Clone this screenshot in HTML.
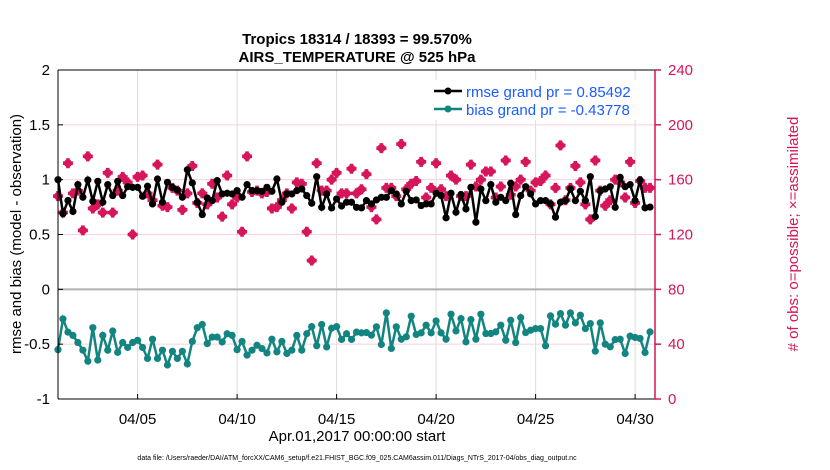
<!DOCTYPE html>
<html><head><meta charset="utf-8"><style>
body{margin:0;background:#fff;}
svg{display:block;font-family:"Liberation Sans",Arial,sans-serif;}
</style></head><body>
<svg id="chart" width="830" height="470" viewBox="0 0 830 470">
<g id="grid"></g>
<g id="series"></g>
<g id="axes"></g>
<text x="357" y="44" text-anchor="middle" font-size="15" font-weight="bold">Tropics 18314 / 18393 = 99.570%</text>
<text x="357" y="62" text-anchor="middle" font-size="15" font-weight="bold">AIRS_TEMPERATURE @ 525 hPa</text>
<text transform="translate(21,234) rotate(-90)" text-anchor="middle" font-size="15">rmse and bias (model - observation)</text>
<text transform="translate(798,234) rotate(-90)" text-anchor="middle" font-size="15" fill="#d6155a"># of obs: o=possible; ×=assimilated</text>
<text x="357" y="441" text-anchor="middle" font-size="15">Apr.01,2017 00:00:00 start</text>
<text x="357" y="460" text-anchor="middle" font-size="7">data file: /Users/raeder/DAI/ATM_forcXX/CAM6_setup/f.e21.FHIST_BGC.f09_025.CAM6assim.011/Diags_NTrS_2017-04/obs_diag_output.nc</text>
<g>
<rect x="430" y="80" width="222" height="40" fill="#fff"/>
<g>
<line x1="434" y1="91" x2="462" y2="91" stroke="#000" stroke-width="2.5"/><circle cx="448" cy="91" r="3.5" fill="#000"/>
<text x="466" y="97" font-size="15" fill="#1a5cff">rmse grand pr = 0.85492</text></g>
<g>
<line x1="434" y1="109" x2="462" y2="109" stroke="#138580" stroke-width="2.5"/><circle cx="448" cy="109" r="3.5" fill="#138580"/>
<text x="466" y="115" font-size="15" fill="#1a5cff">bias grand pr = -0.43778</text></g>
</g>
</svg>
<script>
const rmse=[1.0,0.69,0.81,0.71,0.955,0.84,0.997,0.803,0.985,0.794,0.955,0.855,0.985,0.855,0.936,0.93,0.93,0.848,0.94,0.779,1.006,0.794,0.976,0.93,0.906,0.84,1.09,0.97,0.794,0.682,0.833,0.809,0.991,0.87,0.876,0.87,0.9,0.84,0.955,0.9,0.9,0.894,0.93,0.894,1.006,0.794,0.87,0.87,0.9,0.915,0.855,0.785,1.027,0.748,0.87,0.742,0.824,0.76,0.794,0.794,0.748,
0.743,0.809,0.779,0.815,0.839,0.839,0.9,0.87,0.779,0.894,0.809,0.815,0.764,0.779,0.779,0.876,
0.855,0.652,0.876,0.703,0.864,0.733,0.93,0.612,0.915,0.809,0.955,0.794,0.839,0.809,0.967,0.682,0.855,0.936,0.87,0.779,0.809,0.809,0.779,0.658,0.794,0.809,0.915,0.809,0.894,0.809,1.027,0.664,0.9,0.915,0.936,0.748,1.021,0.936,0.955,0.809,0.997,0.743,0.75];
const bias=[-0.55,-0.27,-0.39,-0.42,-0.485,-0.555,-0.655,-0.35,-0.645,-0.42,-0.555,-0.38,-0.575,-0.485,-0.53,-0.485,-0.465,-0.53,-0.63,-0.455,-0.63,-0.555,-0.69,-0.565,-0.63,-0.565,-0.68,-0.475,-0.35,-0.32,-0.495,-0.435,-0.435,-0.48,-0.405,-0.42,-0.55,-0.475,-0.6,-0.555,-0.51,-0.54,-0.58,-0.455,-0.57,-0.475,-0.585,-0.555,-0.42,-0.555,-0.405,-0.34,-0.515,-0.32,-0.525,-0.355,-0.34,-0.457,-0.405,-0.457,-0.39,
-0.397,-0.394,-0.418,-0.342,-0.503,-0.215,-0.539,-0.342,-0.455,-0.433,-0.245,-0.412,-0.397,-0.327,-0.397,-0.288,-0.397,-0.455,-0.227,-0.379,-0.267,-0.479,-0.276,-0.455,-0.227,-0.403,-0.403,-0.388,-0.327,-0.464,-0.282,-0.485,-0.258,-0.394,-0.373,-0.358,-0.358,-0.515,-0.242,-0.318,-0.221,-0.327,-0.215,-0.306,-0.236,-0.358,-0.312,-0.564,-0.306,-0.5,-0.524,-0.458,-0.455,-0.585,-0.427,-0.439,-0.448,-0.576,-0.388];
const obsCount=[148,136,172,150,152,123,177,139,142,136,165,136,152,162,158,120,162,163,150,145,171,141,140,154,152,138,150,170,143,150,142,157,147,133,163,142,147,122,177,151,152,150,151,139,140,145,150,139,158,157,122,101,172,152,152,160,165,150,150,168,150,
153,164,140,131,183,154,154,148,186,153,157,159,173,147,154,172,153,148,163,160,148,148,171,155,160,166,166,147,155,174,149,155,160,173,152,158,159,163,142,154,185,145,154,170,158,142,131,174,152,141,145,160,158,147,173,143,159,154,154];
const xTickDays=[4,9,14,19,24,29];
const xTickLabels=["04/05","04/10","04/15","04/20","04/25","04/30"];
const yTicks=[2,1.5,1,0.5,0,-0.5,-1];
const y2Ticks=[240,200,160,120,80,40,0];
const stepDays=0.25;

const NS="http://www.w3.org/2000/svg";
const L=58,R=655,T=70,B=399;
const xS=d=>L+d*(R-L)/30;
const yS=v=>B-(v+1)*(B-T)/3;
const y2S=c=>B-c*(B-T)/240;
function mk(tag,attrs,parent){const e=document.createElementNS(NS,tag);for(const k in attrs)e.setAttribute(k,attrs[k]);parent.appendChild(e);return e;}
const grid=document.getElementById('grid'),ser=document.getElementById('series'),ax=document.getElementById('axes');
xTickDays.forEach((d,i)=>{
 const g=mk('line',{x1:xS(d),x2:xS(d),y1:T,y2:B,stroke:'#dcdcdc','stroke-width':1},grid);
 
 
 mk('line',{x1:xS(d),x2:xS(d),y1:B,y2:B-5,stroke:'#000'},ax);
 const lb=mk('text',{x:xS(d),y:B+25,'text-anchor':'middle','font-size':15},ax);lb.textContent=xTickLabels[i];
 
 
});
y2Ticks.forEach(c=>{
 if(c===0||c===240)return;
 const g=mk('line',{x1:L,x2:R,y1:y2S(c),y2:y2S(c),stroke:'#f8d0dc','stroke-width':1},grid);
 
 
});
const z=mk('line',{x1:L,x2:R,y1:yS(0),y2:yS(0),stroke:'#b0b0b0','stroke-width':2},grid);


obsCount.forEach((c,i)=>{
 const x=xS(i*stepDays),y=y2S(c);
 const g=mk('g',{fill:'#d6155a'},ser);
 
 
 mk('path',{d:`M${x-1.8} ${y-5}h3.6v3.2h3.2v3.6h-3.2v3.2h-3.6v-3.2h-3.2v-3.6h3.2z`},g);
 mk('circle',{cx:x,cy:y,r:4},g);
});
function line(arr,color,name){
 const pts=arr.map((v,i)=>xS(i*stepDays).toFixed(1)+','+yS(v).toFixed(1)).join(' ');
 const p=mk('polyline',{points:pts,fill:'none',stroke:color,'stroke-width':2.5},ser);
 
 
 arr.forEach((v,i)=>{
  const c=mk('circle',{cx:xS(i*stepDays),cy:yS(v),r:3.6,fill:color},ser);
  
  
 });
}
line(rmse,'#000','rmse');
line(bias,'#138580','bias');
mk('line',{x1:L,x2:R,y1:T,y2:T,stroke:'#000'},ax);
mk('line',{x1:L,x2:R,y1:B,y2:B,stroke:'#000'},ax);
mk('line',{x1:L,x2:L,y1:T,y2:B,stroke:'#000'},ax);
mk('line',{x1:R,x2:R,y1:T,y2:B,stroke:'#d6155a','stroke-width':1.5},ax);
yTicks.forEach(v=>{
 mk('line',{x1:L,x2:L+5,y1:yS(v),y2:yS(v),stroke:'#000'},ax);
 const t=mk('text',{x:L-8,y:yS(v)+5,'text-anchor':'end','font-size':15},ax);t.textContent=v;
 
 
});
y2Ticks.forEach(c=>{
 mk('line',{x1:R,x2:R+6,y1:y2S(c),y2:y2S(c),stroke:'#d6155a','stroke-width':1.5},ax);
 const t=mk('text',{x:R+13,y:y2S(c)+5,'font-size':15,fill:'#d6155a'},ax);t.textContent=c;
 
 
});
</script>
</body></html>
